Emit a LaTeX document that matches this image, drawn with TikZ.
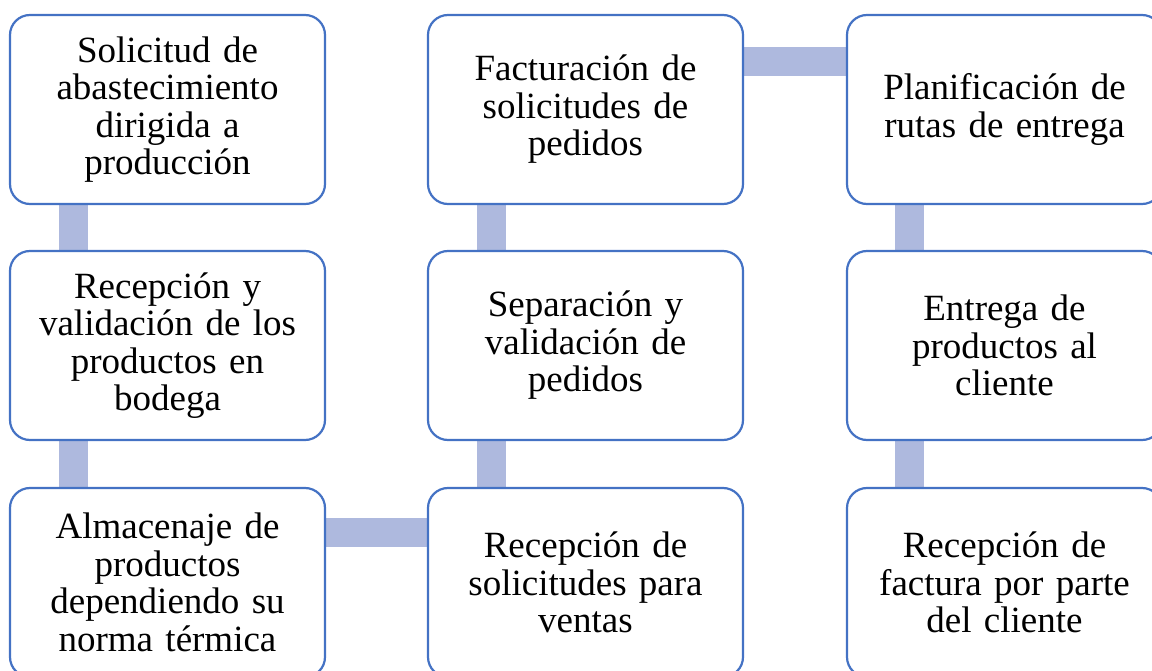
\documentclass[tikz,border=0pt]{standalone}
\usepackage{fontspec}
\setmainfont{Liberation Serif}
\usetikzlibrary{backgrounds}
\definecolor{boxline}{RGB}{68,114,196}
\definecolor{conn}{RGB}{174,185,222}
\begin{document}
\begin{tikzpicture}[x=1pt,y=-1pt,
  stepbox/.style={draw=boxline, line width=2.2pt, fill=white, rounded corners=20pt,
    minimum width=315pt, minimum height=189pt, inner sep=0pt, text width=300pt,
    align=center, font=\fontsize{37}{37.5}\selectfont},
  link/.style={draw=conn, line width=29pt}]
\useasboundingbox (0,0) rectangle (1152,671);
\clip (0,0) rectangle (1152,671);
\node[stepbox] (a1) at (167.5,109.5) {Solicitud de\\abastecimiento\\dirigida a\\producción};
\node[stepbox] (a2) at (167.5,345.5) {Recepción y\\validación de los\\productos en\\bodega};
\node[stepbox] (a3) at (167.5,582.5) {Almacenaje de\\productos\\dependiendo su\\norma térmica};
\node[stepbox] (b1) at (585.5,109.5) {Facturación de\\solicitudes de\\pedidos};
\node[stepbox] (b2) at (585.5,345.5) {Separación y\\validación de\\pedidos};
\node[stepbox] (b3) at (585.5,582.5) {Recepción de\\solicitudes para\\ventas};
\node[stepbox] (c1) at (1004.5,109.5) {Planificación de\\rutas de entrega};
\node[stepbox] (c2) at (1004.5,345.5) {Entrega de\\productos al\\cliente};
\node[stepbox] (c3) at (1004.5,582.5) {Recepción de\\factura por parte\\del cliente};
\begin{scope}[on background layer]
\draw[link] ([xshift=64.5pt]a1.south west) -- ([xshift=64.5pt]a2.north west);
\draw[link] ([xshift=64.5pt]a2.south west) -- ([xshift=64.5pt]a3.north west);
\draw[link] ([yshift=-45.5pt]a3.north east) -- ([yshift=-45.5pt]b3.north west);
\draw[link] ([xshift=64.5pt]b3.north west) -- ([xshift=64.5pt]b2.south west);
\draw[link] ([xshift=64.5pt]b2.north west) -- ([xshift=64.5pt]b1.south west);
\draw[link] ([yshift=-47.5pt]b1.north east) -- ([yshift=-47.5pt]c1.north west);
\draw[link] ([xshift=63.5pt]c1.south west) -- ([xshift=63.5pt]c2.north west);
\draw[link] ([xshift=63.5pt]c2.south west) -- ([xshift=63.5pt]c3.north west);
\end{scope}
\end{tikzpicture}
\end{document}
